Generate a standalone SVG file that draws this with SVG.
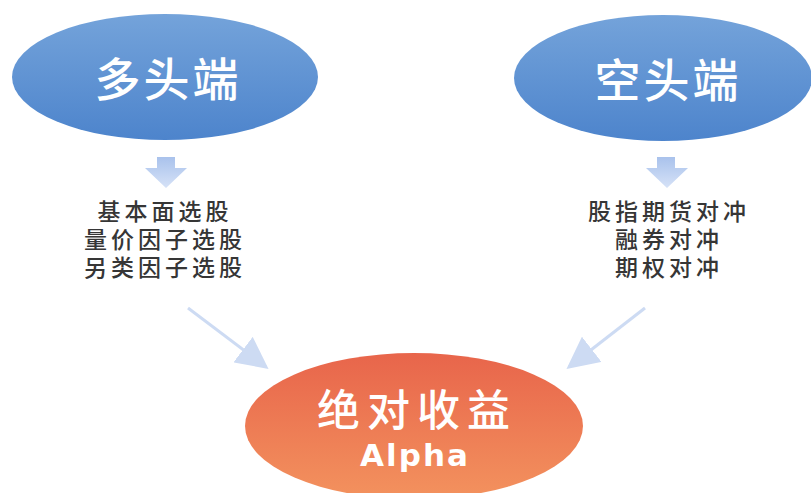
<svg xmlns="http://www.w3.org/2000/svg" width="811" height="493" viewBox="0 0 811 493">
<defs>
<linearGradient id="gBlue" x1="0" y1="0" x2="0" y2="1">
<stop offset="0" stop-color="#74a3da"/>
<stop offset="1" stop-color="#4d84cc"/>
</linearGradient>
<linearGradient id="gOrange" x1="0" y1="0" x2="0" y2="1">
<stop offset="0" stop-color="#e8654b"/>
<stop offset="1" stop-color="#f3925e"/>
</linearGradient>
<linearGradient id="gArrow" x1="0" y1="0" x2="0" y2="1">
<stop offset="0" stop-color="#a9c2ec"/>
<stop offset="1" stop-color="#d6e2f7"/>
</linearGradient>
<marker id="head2" viewBox="0 0 10 10" refX="9" refY="5" markerWidth="32" markerHeight="32" markerUnits="userSpaceOnUse" orient="auto">
<path d="M0,0 L10,5 L0,10 Z" fill="#cddbf3"/>
</marker>
</defs>
<style>
.title{font-family:"Noto Sans CJK SC","Noto Sans",sans-serif;fill:#ffffff;text-anchor:middle;font-weight:500;}
.list{font-family:"Noto Sans CJK SC","Noto Sans",sans-serif;font-size:23px;font-weight:500;fill:#363636;text-anchor:middle;letter-spacing:4px;}
.conn{stroke:#cddbf3;stroke-width:3;fill:none;}
</style>
<rect width="811" height="493" fill="#ffffff"/>
<g id="connectors">
<path d="M157,157 H175 V168 H187 L166,188 L145,168 H157 Z" fill="url(#gArrow)"/>
<path d="M657,157 H675 V168 H688 L667,188 L646,168 H657 Z" fill="url(#gArrow)"/>
<line class="conn" x1="188" y1="308" x2="266" y2="367" marker-end="url(#head2)"/>
<line class="conn" x1="645" y1="308" x2="569" y2="367" marker-end="url(#head2)"/>
</g>
<g id="long">
<ellipse cx="165" cy="77" rx="153" ry="63" fill="url(#gBlue)"/>
<text class="title" x="168" y="96" font-size="46" letter-spacing="3">多头端</text>
</g>
<g id="short">
<ellipse cx="663" cy="78" rx="149" ry="63" fill="url(#gBlue)"/>
<text class="title" x="668" y="97" font-size="46" letter-spacing="3">空头端</text>
</g>
<g id="long-list">
<text class="list" x="165" y="220">基本面选股</text>
<text class="list" x="165" y="248">量价因子选股</text>
<text class="list" x="165" y="276">另类因子选股</text>
</g>
<g id="short-list">
<text class="list" x="669" y="220">股指期货对冲</text>
<text class="list" x="669" y="248">融券对冲</text>
<text class="list" x="669" y="276">期权对冲</text>
</g>
<g id="alpha">
<ellipse cx="414" cy="426" rx="169" ry="73" fill="url(#gOrange)"/>
<text class="title" x="417" y="426" font-size="43" letter-spacing="7">绝对收益</text>
<text x="415" y="466" font-family="'DejaVu Sans',sans-serif" font-weight="bold" font-size="31" fill="#ffffff" text-anchor="middle" letter-spacing="2">Alpha</text>
</g>
</svg>
